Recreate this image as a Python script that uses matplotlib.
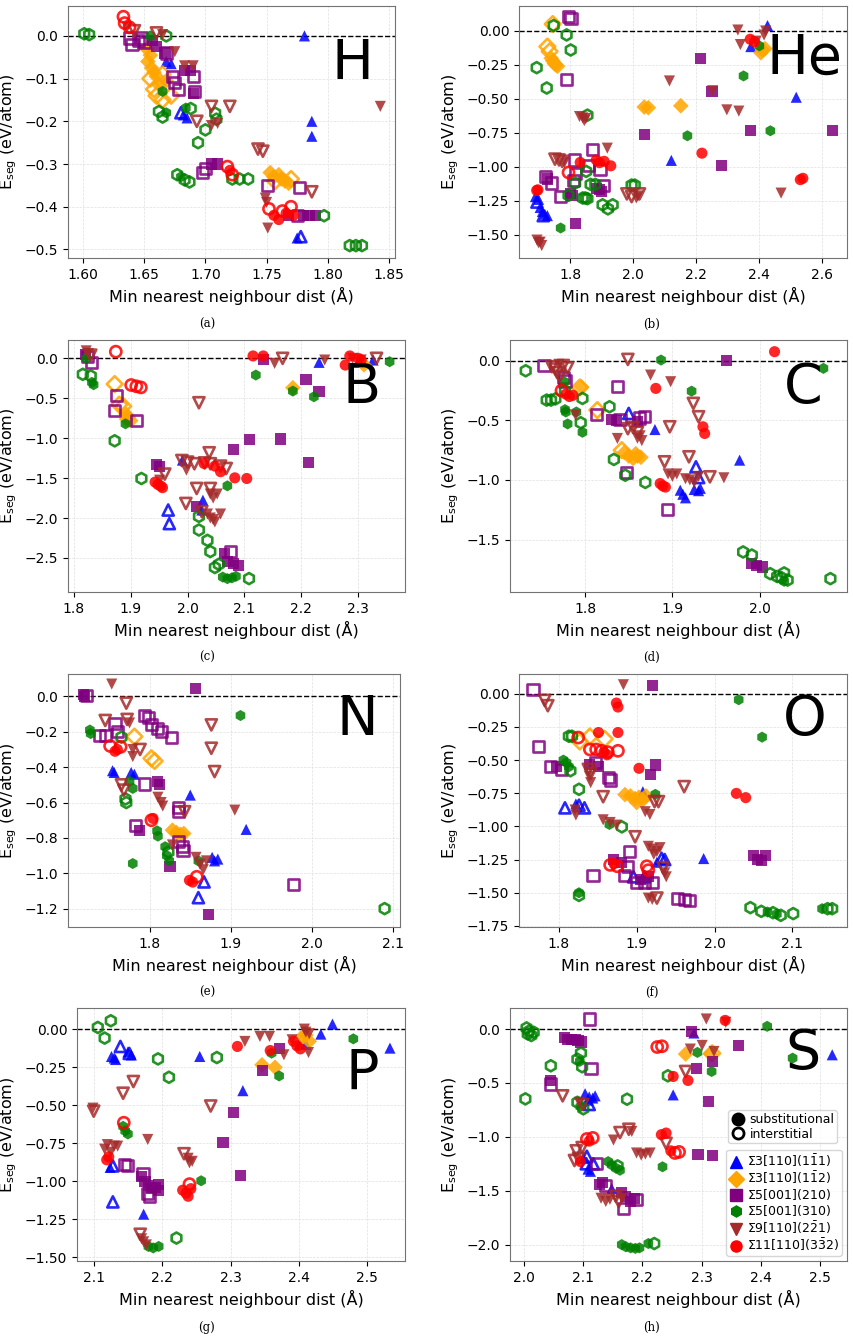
import matplotlib
matplotlib.use("Agg")
import matplotlib.pyplot as plt
from matplotlib.lines import Line2D

plt.rcParams["mathtext.default"] = "regular"

# -------------------------
# Data: (min NN dist [A], E_seg [eV/atom], 1 = substitutional / 0 = interstitial)
# -------------------------

# H
H_S3_111 = [(1.781, 0.0, 1), (1.787, -0.200, 1), (1.787, -0.235, 1), (1.775, -0.473, 1), (1.778, -0.470, 0),
            (1.682, -0.185, 1), (1.685, -0.192, 1), (1.680, -0.180, 0), (1.668, -0.060, 1), (1.672, -0.065, 1)]
H_S3_112 = [(1.652, -0.03, 1), (1.655, -0.045, 1), (1.653, -0.06, 1), (1.656, -0.075, 1), (1.658, -0.085, 1),
            (1.660, -0.095, 1), (1.655, -0.10, 0), (1.662, -0.115, 1), (1.658, -0.125, 0), (1.660, -0.14, 0),
            (1.665, -0.15, 0), (1.672, -0.14, 0), (1.665, -0.09, 0), (1.668, -0.105, 1),
            (1.753, -0.32, 1), (1.756, -0.33, 1), (1.760, -0.325, 1), (1.762, -0.335, 1), (1.765, -0.34, 1),
            (1.768, -0.345, 1), (1.757, -0.34, 0), (1.770, -0.335, 0)]
H_S5_210 = [(1.638, -0.005, 0), (1.640, -0.02, 0), (1.645, -0.01, 0), (1.648, -0.005, 0), (1.650, -0.015, 0),
            (1.657, -0.01, 1), (1.660, -0.025, 1), (1.667, -0.04, 1), (1.668, -0.04, 0), (1.673, -0.095, 0),
            (1.675, -0.11, 0), (1.683, -0.08, 1), (1.688, -0.08, 1), (1.690, -0.095, 0), (1.690, -0.135, 1),
            (1.691, -0.13, 0), (1.678, -0.125, 0), (1.700, -0.31, 0), (1.705, -0.30, 1), (1.710, -0.30, 1),
            (1.698, -0.32, 0), (1.751, -0.35, 0), (1.777, -0.355, 0), (1.768, -0.42, 1), (1.775, -0.42, 0),
            (1.780, -0.42, 1), (1.785, -0.42, 1), (1.790, -0.42, 1)]
H_S5_310 = [(1.601, 0.005, 0), (1.605, 0.003, 0), (1.668, 0.0, 0), (1.655, 0.0, 1), (1.665, -0.13, 1),
            (1.662, -0.177, 0), (1.665, -0.19, 0), (1.668, -0.18, 1), (1.684, -0.169, 1), (1.688, -0.17, 0),
            (1.708, -0.181, 0), (1.709, -0.195, 0), (1.700, -0.22, 0), (1.694, -0.25, 0), (1.677, -0.325, 0),
            (1.680, -0.33, 1), (1.683, -0.337, 0), (1.687, -0.342, 0), (1.722, -0.335, 0), (1.728, -0.335, 0),
            (1.735, -0.335, 0), (1.797, -0.421, 0), (1.818, -0.491, 0), (1.823, -0.491, 0), (1.828, -0.491, 0)]
H_S9_221 = [(1.636, 0.02, 1), (1.642, 0.012, 0), (1.660, 0.007, 0), (1.665, 0.003, 1), (1.675, -0.037, 1),
            (1.683, -0.07, 1), (1.690, -0.07, 1), (1.705, -0.165, 0), (1.720, -0.165, 0), (1.693, -0.20, 0),
            (1.705, -0.21, 1), (1.710, -0.205, 1), (1.743, -0.265, 0), (1.747, -0.27, 0), (1.749, -0.38, 1),
            (1.750, -0.39, 1), (1.751, -0.45, 1), (1.787, -0.365, 0), (1.843, -0.165, 1)]
H_S11_332 = [(1.633, 0.045, 0), (1.634, 0.03, 0), (1.638, 0.02, 0), (1.718, -0.306, 0), (1.720, -0.315, 1),
             (1.722, -0.325, 0), (1.752, -0.405, 0), (1.756, -0.42, 1), (1.760, -0.43, 1), (1.763, -0.41, 0),
             (1.766, -0.415, 1), (1.770, -0.40, 0), (1.772, -0.42, 1)]

# He
HE_S3_111 = [(1.690, -1.22, 1), (1.695, -1.26, 0), (1.700, -1.24, 1), (1.705, -1.30, 1), (1.712, -1.33, 1),
             (1.715, -1.36, 0), (1.720, -1.35, 1), (1.728, -1.36, 1), (2.121, -0.953, 1), (2.373, -0.115, 1),
             (2.426, 0.04, 1), (2.517, -0.488, 1)]
HE_S3_112 = [(1.745, 0.051, 0), (1.728, -0.115, 0), (1.735, -0.15, 0), (1.740, -0.20, 1), (1.745, -0.22, 1),
             (1.750, -0.24, 1), (1.755, -0.25, 1), (1.760, -0.26, 1), (2.035, -0.56, 1), (2.048, -0.565, 1),
             (2.151, -0.551, 1), (2.405, -0.16, 1), (2.410, -0.14, 1), (2.418, -0.13, 1)]
HE_S5_210 = [(1.795, 0.105, 0), (1.803, 0.09, 0), (1.789, -0.36, 0), (1.722, -1.075, 0), (1.728, -1.09, 1),
             (1.740, -1.12, 0), (1.770, -1.22, 0), (1.800, -1.20, 1), (1.808, -1.21, 1), (1.815, -0.95, 0),
             (1.818, -1.05, 0), (1.812, -1.10, 0), (1.857, -0.99, 0), (1.872, -0.875, 0), (1.895, -1.02, 0),
             (1.905, -1.14, 0), (1.885, -1.16, 1), (1.893, -1.17, 1), (1.900, -1.18, 1), (2.035, -0.76, 1),
             (2.213, -0.20, 1), (2.250, -0.446, 1), (2.280, -0.993, 1), (2.373, -0.735, 1), (2.631, -0.735, 1),
             (1.816, -1.419, 1)]
HE_S5_310 = [(1.748, 0.04, 0), (1.789, -0.029, 0), (1.802, -0.14, 0), (1.694, -0.27, 0), (1.726, -0.42, 0),
             (1.855, -0.62, 0), (1.770, -1.451, 1), (1.816, -1.12, 0), (1.851, -1.034, 0), (1.865, -1.13, 0),
             (1.880, -1.13, 0), (1.840, -1.23, 0), (1.848, -1.23, 0), (1.855, -1.235, 0), (1.795, -1.21, 0),
             (1.903, -1.28, 0), (1.920, -1.31, 0), (1.935, -1.28, 0), (1.995, -1.135, 0), (2.005, -1.135, 0),
             (2.172, -0.772, 1), (2.350, -0.331, 1), (2.435, -0.735, 1), (2.400, -0.11, 1)]
HE_S9_221 = [(1.695, -1.54, 1), (1.700, -1.56, 1), (1.705, -1.555, 1), (1.710, -1.58, 1), (1.752, -0.944, 0),
             (1.765, -0.95, 0), (1.775, -0.96, 0), (1.782, -0.97, 1), (1.830, -0.63, 1), (1.840, -0.64, 1),
             (1.850, -0.645, 1), (1.845, -0.66, 1), (1.918, -0.863, 1), (1.980, -1.20, 0), (1.995, -1.22, 0),
             (2.010, -1.23, 1), (2.020, -1.20, 0), (2.015, -1.215, 1), (2.115, -0.368, 1), (2.252, -0.44, 1),
             (2.297, -0.581, 1), (2.335, -0.59, 1), (2.332, 0.007, 1), (2.340, -0.10, 1), (2.390, -0.075, 1),
             (2.420, 0.0, 1), (2.415, -0.03, 1), (2.469, -1.194, 1)]
HE_S11_332 = [(1.694, -1.174, 1), (1.698, -1.17, 1), (1.795, -1.042, 0), (1.832, -0.968, 1), (1.883, -0.95, 1),
              (1.893, -0.97, 1), (1.908, -0.96, 1), (1.929, -0.993, 1), (2.218, -0.90, 1), (2.371, -0.061, 1),
              (2.385, -0.08, 1), (2.530, -1.095, 1), (2.538, -1.085, 1)]

# B
B_S3_111 = [(1.966, -1.90, 0), (1.968, -2.07, 0), (1.991, -1.275, 1), (2.027, -1.777, 1), (2.025, -1.90, 1),
            (2.231, -0.05, 1), (2.300, -0.05, 1), (2.326, -0.021, 1)]
B_S3_112 = [(1.872, -0.322, 0), (1.880, -0.58, 0), (1.887, -0.60, 0), (1.892, -0.70, 1), (1.896, -0.74, 1),
            (1.900, -0.78, 1), (1.893, -0.76, 1), (2.185, -0.368, 1), (2.310, -0.08, 1)]
B_S5_210 = [(1.820, 0.05, 1), (1.825, 0.02, 0), (1.831, -0.05, 0), (1.875, -0.46, 0), (1.872, -0.648, 0),
            (1.910, -0.782, 0), (1.945, -1.33, 1), (1.950, -1.36, 1), (2.016, -1.86, 1), (2.065, -2.45, 1),
            (2.075, -2.42, 0), (2.070, -2.55, 1), (2.080, -2.57, 1), (2.090, -2.60, 1), (2.081, -1.141, 1),
            (2.109, -1.012, 1), (2.164, -1.01, 1), (2.212, -1.304, 1), (2.208, -0.263, 1), (2.231, -0.41, 1),
            (2.133, -0.012, 1)]
B_S5_310 = [(1.816, -0.20, 0), (1.830, -0.22, 0), (1.832, -0.30, 1), (1.835, -0.33, 1), (1.891, -0.82, 1),
            (1.872, -1.033, 0), (1.919, -1.505, 0), (2.020, -1.98, 0), (2.020, -2.15, 0), (2.035, -2.28, 0),
            (2.040, -2.42, 0), (2.048, -2.62, 0), (2.055, -2.58, 0), (2.062, -2.74, 1), (2.070, -2.76, 1),
            (2.078, -2.75, 1), (2.085, -2.73, 1), (2.108, -2.759, 0), (2.120, -0.209, 1), (2.070, -1.597, 1),
            (2.185, -0.41, 1), (2.222, -0.481, 1), (2.355, -0.042, 1), (1.822, 0.0, 1)]
B_S9_221 = [(1.822, 0.094, 1), (1.826, 0.06, 1), (1.830, 0.04, 0), (2.020, -0.556, 0), (1.990, -1.28, 0),
            (2.000, -1.30, 0), (2.012, -1.32, 0), (2.030, -1.31, 0), (2.040, -1.32, 0), (2.058, -1.35, 0),
            (2.068, -1.38, 0), (2.038, -1.183, 0), (1.998, -1.40, 1), (1.951, -1.526, 1), (1.960, -1.45, 0),
            (2.016, -1.63, 0), (2.040, -1.63, 0), (2.040, -1.70, 1), (2.045, -1.75, 1), (2.052, -1.70, 1),
            (1.997, -1.818, 0), (2.025, -1.92, 0), (2.035, -1.95, 1), (2.040, -2.00, 1), (2.048, -2.05, 1),
            (2.058, -1.95, 1), (2.045, -2.02, 1), (2.153, -0.063, 1), (2.167, 0.0, 0), (2.241, -0.021, 1),
            (2.290, 0.0, 1), (2.305, -0.02, 1), (2.332, 0.0, 0)]
B_S11_332 = [(1.874, 0.084, 0), (1.901, -0.334, 0), (1.910, -0.35, 0), (1.918, -0.364, 0), (1.943, -1.55, 1),
             (1.948, -1.58, 1), (1.953, -1.60, 1), (1.956, -1.62, 1), (2.029, -1.317, 1), (2.048, -1.35, 1),
             (2.058, -1.42, 1), (2.083, -1.497, 1), (2.104, -1.505, 1), (2.115, 0.03, 1), (2.133, 0.03, 1),
             (2.277, -0.084, 1), (2.285, 0.03, 1), (2.300, 0.0, 1), (2.305, -0.02, 1)]

# C
C_S3_111 = [(1.850, -0.442, 0), (1.880, -0.577, 1), (1.909, -1.086, 1), (1.912, -1.12, 1), (1.915, -1.15, 1),
            (1.927, -0.89, 0), (1.930, -0.98, 0), (1.925, -1.08, 1), (1.930, -1.09, 1), (1.932, -1.07, 1),
            (1.977, -0.834, 1)]
C_S3_112 = [(1.794, -0.224, 0), (1.796, -0.22, 1), (1.814, -0.414, 0), (1.842, -0.75, 0), (1.845, -0.77, 1),
            (1.850, -0.80, 1), (1.855, -0.82, 1), (1.860, -0.80, 1), (1.858, -0.78, 1), (1.864, -0.81, 1)]
C_S5_210 = [(1.753, -0.042, 0), (1.775, -0.14, 0), (1.777, -0.17, 0), (1.837, -0.218, 0), (1.813, -0.448, 0),
            (1.830, -0.49, 1), (1.836, -0.50, 1), (1.840, -0.49, 0), (1.862, -0.48, 0), (1.868, -0.47, 0),
            (1.860, -0.51, 1), (1.847, -0.94, 0), (1.894, -1.248, 0), (1.962, 0.0, 1), (1.991, -1.70, 1),
            (1.996, -1.72, 1), (2.003, -1.73, 1)]
C_S5_310 = [(1.732, -0.084, 0), (1.756, -0.33, 0), (1.761, -0.33, 0), (1.766, -0.32, 0), (1.776, -0.176, 1),
            (1.777, -0.25, 0), (1.777, -0.41, 1), (1.778, -0.43, 1), (1.780, -0.53, 1), (1.790, -0.43, 1),
            (1.795, -0.52, 0), (1.797, -0.60, 1), (1.797, -0.316, 0), (1.828, -0.386, 0), (1.833, -0.828, 0),
            (1.846, -0.96, 0), (1.869, -1.021, 0), (1.887, 0.006, 1), (1.922, -0.255, 1), (2.073, -0.064, 1),
            (1.981, -1.604, 0), (1.991, -1.63, 0), (2.012, -1.786, 0), (2.020, -1.81, 0), (2.025, -1.82, 0),
            (2.028, -1.85, 1), (2.032, -1.84, 0), (2.028, -1.78, 0), (2.081, -1.828, 0)]
C_S9_221 = [(1.762, -0.05, 0), (1.766, -0.07, 0), (1.768, -0.10, 0), (1.771, -0.13, 0), (1.775, -0.04, 0),
            (1.780, -0.06, 0), (1.770, -0.03, 1), (1.789, -0.456, 1), (1.849, 0.011, 0), (1.875, -0.12, 1),
            (1.898, -0.176, 1), (1.924, -0.358, 0), (1.930, -0.47, 0), (1.897, -0.554, 0), (1.837, -0.652, 1),
            (1.849, -0.57, 0), (1.855, -0.56, 0), (1.860, -0.60, 0), (1.860, -0.65, 1), (1.865, -0.67, 1),
            (1.863, -0.63, 1), (1.891, -0.848, 0), (1.919, -0.806, 0), (1.895, -0.95, 1), (1.900, -0.97, 1),
            (1.905, -0.95, 1), (1.915, -0.99, 1), (1.920, -1.00, 1), (1.925, -1.02, 1), (1.930, -0.97, 1),
            (1.943, -0.974, 0), (1.959, -0.982, 1)]
C_S11_332 = [(1.773, -0.25, 0), (1.778, -0.28, 1), (1.782, -0.30, 1), (1.786, -0.29, 1), (1.881, -0.232, 1),
             (1.886, -1.03, 1), (1.889, -1.05, 1), (1.892, -1.06, 1), (1.935, -0.554, 1), (1.937, -0.61, 1),
             (2.017, 0.076, 1)]

# N
N_S3_111 = [(1.754, -0.42, 1), (1.756, -0.43, 1), (1.777, -0.43, 1), (1.781, -0.44, 1), (1.867, -1.049, 0),
            (1.860, -1.138, 0), (1.850, -0.558, 1), (1.877, -0.91, 1), (1.880, -0.93, 1), (1.884, -0.92, 1),
            (1.919, -0.752, 1)]
N_S3_112 = [(1.781, -0.227, 0), (1.802, -0.35, 0), (1.806, -0.365, 0), (1.828, -0.756, 1), (1.833, -0.77, 1),
            (1.838, -0.78, 1), (1.842, -0.775, 1)]
N_S5_210 = [(1.718, 0.01, 1), (1.719, 0.0, 1), (1.722, 0.005, 0), (1.856, 0.047, 1), (1.738, -0.22, 0),
            (1.745, -0.22, 0), (1.757, -0.151, 0), (1.760, -0.20, 0), (1.794, -0.11, 0), (1.798, -0.12, 0),
            (1.802, -0.16, 0), (1.810, -0.18, 0), (1.815, -0.20, 0), (1.827, -0.23, 0), (1.793, -0.495, 0),
            (1.810, -0.48, 1), (1.812, -0.50, 1), (1.782, -0.73, 0), (1.787, -0.76, 1), (1.835, -0.63, 0),
            (1.836, -0.65, 0), (1.825, -0.964, 1), (1.835, -0.82, 0), (1.840, -0.85, 0), (1.841, -0.87, 0),
            (1.873, -1.232, 1), (1.977, -1.062, 0)]
N_S5_310 = [(1.726, -0.19, 1), (1.727, -0.21, 1), (1.765, -0.23, 0), (1.775, -0.48, 1), (1.779, -0.52, 1),
            (1.770, -0.58, 0), (1.771, -0.60, 0), (1.809, -0.76, 1), (1.810, -0.79, 1), (1.819, -0.85, 1),
            (1.821, -0.90, 1), (1.824, -0.93, 1), (1.823, -0.88, 0), (1.779, -0.945, 1), (1.860, -0.93, 1),
            (1.912, -0.108, 1), (2.090, -1.20, 0)]
N_S9_221 = [(1.753, 0.07, 1), (1.771, -0.038, 0), (1.745, -0.136, 0), (1.772, -0.13, 0), (1.775, -0.15, 1),
            (1.779, -0.30, 1), (1.779, -0.34, 1), (1.788, -0.30, 0), (1.765, -0.50, 0), (1.768, -0.53, 0),
            (1.810, -0.57, 1), (1.814, -0.60, 1), (1.816, -0.62, 1), (1.843, -0.652, 0), (1.828, -0.84, 1),
            (1.857, -0.91, 1), (1.862, -0.95, 1), (1.866, -0.98, 1), (1.870, -0.93, 1), (1.876, -0.161, 0),
            (1.876, -0.293, 0), (1.880, -0.425, 0), (1.905, -0.643, 1)]
N_S11_332 = [(1.751, -0.28, 0), (1.757, -0.31, 1), (1.760, -0.30, 1), (1.764, -0.285, 0), (1.802, -0.70, 0),
             (1.804, -0.69, 1), (1.849, -1.04, 1), (1.853, -1.05, 1), (1.858, -1.02, 0)]

# O
O_S3_111 = [(1.808, -0.86, 0), (1.822, -0.83, 1), (1.826, -0.84, 0), (1.833, -0.86, 0), (1.908, -0.738, 1),
            (1.896, -1.38, 0), (1.910, -1.38, 0), (1.926, -1.27, 1), (1.932, -1.24, 0), (1.936, -1.25, 0),
            (1.986, -1.242, 1)]
O_S3_112 = [(1.827, -0.36, 0), (1.840, -0.322, 0), (1.859, -0.34, 0), (1.885, -0.76, 1), (1.892, -0.77, 1),
            (1.898, -0.79, 1), (1.903, -0.78, 1), (1.908, -0.80, 1), (1.912, -0.77, 1), (1.900, -0.82, 1)]
O_S5_210 = [(1.767, 0.03, 0), (1.774, -0.398, 0), (1.790, -0.55, 0), (1.797, -0.55, 1), (1.803, -0.569, 0),
            (1.840, -0.53, 1), (1.847, -0.52, 0), (1.851, -0.55, 1), (1.864, -0.63, 0), (1.866, -0.65, 0),
            (1.920, 0.063, 1), (1.924, -0.537, 1), (1.918, -0.607, 1), (1.844, -1.368, 0), (1.891, -1.186, 0),
            (1.870, -1.25, 1), (1.880, -1.27, 1), (1.888, -1.30, 0), (1.884, -1.373, 0), (1.900, -1.42, 0),
            (1.905, -1.40, 1), (1.910, -1.42, 0), (1.915, -1.38, 1), (1.920, -1.42, 0), (1.953, -1.54, 0),
            (1.961, -1.55, 0), (1.968, -1.56, 0), (2.050, -1.22, 1), (2.055, -1.25, 1), (2.060, -1.26, 1),
            (2.065, -1.22, 1)]
O_S5_310 = [(1.813, -0.32, 0), (1.817, -0.32, 0), (1.806, -0.50, 1), (1.810, -0.52, 1), (1.813, -0.55, 1),
            (1.815, -0.58, 0), (1.826, -0.72, 0), (1.826, -1.50, 1), (1.826, -1.52, 0), (1.865, -0.985, 1),
            (1.881, -1.003, 0), (1.924, -0.758, 1), (2.031, -0.045, 1), (2.061, -0.327, 1), (2.046, -1.612, 0),
            (2.060, -1.64, 0), (2.068, -1.645, 1), (2.075, -1.65, 0), (2.080, -1.66, 1), (2.085, -1.67, 0),
            (2.101, -1.657, 0), (2.138, -1.62, 1), (2.145, -1.62, 0), (2.151, -1.62, 0)]
O_S9_221 = [(1.883, 0.068, 1), (1.782, -0.05, 0), (1.786, -0.09, 0), (1.838, -0.57, 0), (1.841, -0.60, 0),
            (1.839, -0.62, 1), (1.841, -0.67, 1), (1.857, -0.776, 0), (1.821, -0.876, 1), (1.822, -0.914, 1),
            (1.857, -0.95, 1), (1.866, -0.97, 1), (1.874, -0.99, 1), (1.911, -0.889, 1), (1.917, -0.91, 1),
            (1.923, -0.813, 0), (1.928, -0.813, 0), (1.961, -0.70, 0), (1.898, -1.078, 0), (1.915, -1.15, 1),
            (1.920, -1.17, 1), (1.926, -1.19, 1), (1.922, -1.21, 1), (1.930, -1.16, 1), (1.934, -1.31, 0),
            (1.936, -1.35, 1), (1.938, -1.38, 1), (1.915, -1.54, 1), (1.920, -1.55, 1), (1.926, -1.54, 0)]
O_S11_332 = [(1.874, -0.07, 1), (1.876, -0.10, 1), (1.825, -0.33, 0), (1.851, -0.292, 1), (1.876, -0.292, 1),
             (1.840, -0.42, 0), (1.848, -0.42, 0), (1.855, -0.43, 0), (1.863, -0.44, 0), (1.876, -0.43, 0),
             (1.858, -0.44, 1), (1.862, -0.46, 1), (1.903, -0.562, 1), (1.866, -1.29, 0), (1.871, -1.28, 1),
             (1.875, -1.30, 0), (1.913, -1.30, 0), (1.915, -1.33, 0), (2.028, -0.751, 1), (2.040, -0.783, 1)]

# P
P_S3_111 = [(2.139, -0.114, 0), (2.126, -0.18, 1), (2.130, -0.19, 1), (2.132, -0.20, 1), (2.150, -0.15, 1),
            (2.155, -0.17, 1), (2.152, -0.16, 0), (2.124, -0.91, 1), (2.128, -0.90, 0), (2.128, -1.137, 0),
            (2.173, -1.218, 1), (2.255, -0.18, 1), (2.318, -0.405, 1), (2.401, -0.097, 1), (2.410, -0.10, 1),
            (2.432, -0.033, 1), (2.449, 0.033, 1), (2.533, -0.125, 1)]
P_S3_112 = [(2.346, -0.235, 1), (2.365, -0.251, 1), (2.405, -0.05, 1), (2.410, -0.04, 1), (2.415, -0.08, 1)]
P_S5_210 = [(2.347, -0.27, 1), (2.372, -0.125, 1), (2.304, -0.548, 1), (2.289, -0.748, 1), (2.315, -0.961, 1),
            (2.145, -0.89, 0), (2.150, -0.90, 0), (2.170, -0.97, 1), (2.175, -1.00, 1), (2.180, -1.03, 1),
            (2.185, -1.05, 1), (2.190, -1.04, 1), (2.195, -1.02, 1), (2.172, -0.95, 0), (2.178, -1.08, 0),
            (2.195, -1.06, 1), (2.182, -1.10, 0)]
P_S5_310 = [(2.106, 0.011, 0), (2.125, 0.055, 0), (2.116, -0.059, 0), (2.194, -0.196, 0), (2.210, -0.317, 0),
            (2.280, -0.187, 0), (2.143, -0.64, 1), (2.146, -0.67, 1), (2.150, -0.69, 1), (2.257, -0.998, 1),
            (2.180, -1.43, 1), (2.187, -1.44, 1), (2.195, -1.43, 1), (2.221, -1.375, 0), (2.360, -0.158, 1),
            (2.371, -0.308, 1), (2.4795, -0.064, 1)]
P_S9_221 = [(2.099, -0.52, 1), (2.100, -0.54, 0), (2.143, -0.422, 0), (2.158, -0.345, 0), (2.116, -0.79, 1),
            (2.120, -0.76, 1), (2.125, -0.81, 1), (2.130, -0.77, 1), (2.135, -0.77, 1), (2.179, -0.726, 1),
            (2.271, -0.506, 0), (2.232, -0.82, 0), (2.238, -0.85, 1), (2.244, -0.87, 1), (2.240, -0.88, 1),
            (2.168, -1.35, 0), (2.170, -1.38, 1), (2.173, -1.40, 1), (2.177, -1.42, 1), (2.321, -0.081, 1),
            (2.343, -0.048, 1), (2.357, -0.048, 1), (2.378, -0.169, 1), (2.390, -0.07, 1), (2.408, 0.0, 1),
            (2.410, -0.02, 1), (2.415, -0.03, 1), (2.414, -0.154, 1)]
P_S11_332 = [(2.144, -0.616, 0), (2.119, -0.86, 1), (2.122, -0.84, 1), (2.230, -1.06, 1), (2.235, -1.08, 1),
             (2.238, -1.10, 1), (2.242, -1.05, 1), (2.240, -1.02, 0), (2.310, -0.114, 1), (2.358, -0.141, 1),
             (2.392, -0.08, 1), (2.397, -0.11, 1), (2.402, -0.13, 1)]

# S
S_S3_111 = [(2.103, -0.60, 1), (2.110, -0.63, 1), (2.116, -0.64, 1), (2.120, -0.62, 1), (2.108, -0.66, 1),
            (2.110, -0.70, 0), (2.100, -1.20, 1), (2.105, -1.25, 0), (2.108, -1.30, 1), (2.112, -1.32, 1),
            (2.117, -1.25, 0), (2.106, -1.18, 0), (2.148, -1.48, 1), (2.287, -0.037, 1), (2.252, -0.611, 1),
            (2.521, -0.239, 1)]
S_S3_112 = [(2.273, -0.232, 1), (2.315, -0.232, 1), (2.318, -0.225, 0)]
S_S5_210 = [(2.068, -0.08, 1), (2.074, -0.10, 1), (2.080, -0.10, 1), (2.086, -0.10, 1), (2.091, -0.11, 1),
            (2.096, -0.12, 1), (2.111, 0.093, 0), (2.113, -0.363, 0), (2.044, -0.48, 1), (2.045, -0.51, 0),
            (2.123, -1.247, 0), (2.128, -1.44, 1), (2.133, -1.42, 1), (2.138, -1.45, 0), (2.165, -1.52, 1),
            (2.172, -1.55, 1), (2.180, -1.60, 1), (2.186, -1.57, 1), (2.190, -1.58, 0), (2.168, -1.665, 0),
            (2.283, -0.022, 1), (2.291, -0.363, 1), (2.318, -0.30, 1), (2.311, -0.673, 1), (2.363, -0.155, 1),
            (2.294, -1.16, 1), (2.319, -1.175, 1)]
S_S5_310 = [(2.004, 0.01, 0), (2.008, -0.02, 0), (2.012, -0.06, 0), (2.006, -0.045, 0), (2.016, -0.03, 0),
            (2.002, -0.648, 0), (2.045, -0.341, 0), (2.096, -0.223, 0), (2.090, -0.28, 0), (2.094, -0.30, 1),
            (2.098, -0.35, 0), (2.090, -0.68, 0), (2.095, -0.72, 1), (2.100, -0.74, 0), (2.142, -1.23, 1),
            (2.148, -1.26, 1), (2.155, -1.29, 1), (2.162, -1.31, 1), (2.158, -1.27, 0), (2.174, -0.651, 0),
            (2.165, -2.00, 1), (2.172, -2.02, 1), (2.180, -2.03, 1), (2.188, -2.035, 1), (2.195, -2.03, 1),
            (2.210, -1.99, 1), (2.220, -1.99, 0), (2.243, -0.434, 0), (2.234, -1.278, 1), (2.293, -0.217, 1),
            (2.317, -0.394, 1), (2.411, 0.025, 1), (2.454, -0.27, 1)]
S_S9_221 = [(2.065, -0.62, 0), (2.093, -0.68, 1), (2.099, -0.70, 0), (2.088, -1.13, 0), (2.098, -1.10, 0),
            (2.092, -1.20, 0), (2.085, -1.22, 0), (2.151, -1.03, 1), (2.162, -0.961, 0), (2.177, -0.93, 0),
            (2.182, -0.95, 1), (2.130, -1.57, 1), (2.138, -1.60, 1), (2.145, -1.58, 1), (2.155, -1.55, 0),
            (2.160, -1.60, 0), (2.165, -1.57, 1), (2.190, -1.15, 1), (2.198, -1.17, 1), (2.205, -1.16, 1),
            (2.213, -1.15, 1), (2.240, -1.06, 0), (2.273, -0.394, 0), (2.281, -0.186, 1), (2.301, -0.152, 1),
            (2.308, 0.093, 1), (2.321, -0.208, 1), (2.341, 0.062, 1)]
S_S11_332 = [(2.225, -0.167, 0), (2.233, -0.16, 0), (2.252, -0.44, 1), (2.277, -0.477, 1), (2.340, 0.08, 1),
             (2.106, -1.02, 0), (2.110, -1.04, 1), (2.116, -1.01, 0), (2.095, -1.23, 1), (2.232, -0.98, 1),
             (2.240, -0.965, 1), (2.248, -1.13, 1), (2.255, -1.15, 0), (2.262, -1.14, 0)]

# -------------------------
# Series styles (legend order)
# -------------------------
SERIES_COLORS = ["blue", "orange", "purple", "green", "brown", "red"]
SERIES_MARKERS = ["^", "D", "s", "h", "v", "o"]
SERIES_LABELS = [r"$\Sigma3[110](1\bar{1}1)$", r"$\Sigma3[110](1\bar{1}2)$", r"$\Sigma5[001](210)$",
                 r"$\Sigma5[001](310)$", r"$\Sigma9[110](2\bar{2}1)$", r"$\Sigma11[110](3\bar{3}2)$"]

ELEMENTS = ["H", "He", "B", "C", "N", "O", "P", "S"]
PANEL_TAGS = ["(a)", "(b)", "(c)", "(d)", "(e)", "(f)", "(g)", "(h)"]
PANEL_DATA = [
    [H_S3_111, H_S3_112, H_S5_210, H_S5_310, H_S9_221, H_S11_332],
    [HE_S3_111, HE_S3_112, HE_S5_210, HE_S5_310, HE_S9_221, HE_S11_332],
    [B_S3_111, B_S3_112, B_S5_210, B_S5_310, B_S9_221, B_S11_332],
    [C_S3_111, C_S3_112, C_S5_210, C_S5_310, C_S9_221, C_S11_332],
    [N_S3_111, N_S3_112, N_S5_210, N_S5_310, N_S9_221, N_S11_332],
    [O_S3_111, O_S3_112, O_S5_210, O_S5_310, O_S9_221, O_S11_332],
    [P_S3_111, P_S3_112, P_S5_210, P_S5_310, P_S9_221, P_S11_332],
    [S_S3_111, S_S3_112, S_S5_210, S_S5_310, S_S9_221, S_S11_332],
]
XLIMS = [(1.5877, 1.855), (1.638, 2.678), (1.790, 2.382), (1.714, 2.100),
         (1.699, 2.109), (1.749, 2.170), (2.0756, 2.555), (1.976, 2.546)]
YLIMS = [(-0.52, 0.07), (-1.672, 0.184), (-2.927, 0.23), (-1.94, 0.174),
         (-1.304, 0.127), (-1.758, 0.149), (-1.526, 0.139), (-2.152, 0.195)]
XTICKS = [[1.60, 1.65, 1.70, 1.75, 1.80, 1.85], [1.8, 2.0, 2.2, 2.4, 2.6],
          [1.8, 1.9, 2.0, 2.1, 2.2, 2.3], [1.8, 1.9, 2.0], [1.8, 1.9, 2.0, 2.1],
          [1.8, 1.9, 2.0, 2.1], [2.1, 2.2, 2.3, 2.4, 2.5], [2.0, 2.1, 2.2, 2.3, 2.4, 2.5]]
YTICKS = [[0.0, -0.1, -0.2, -0.3, -0.4, -0.5], [0.0, -0.25, -0.5, -0.75, -1.0, -1.25, -1.5],
          [0.0, -0.5, -1.0, -1.5, -2.0, -2.5], [0.0, -0.5, -1.0, -1.5],
          [0.0, -0.2, -0.4, -0.6, -0.8, -1.0, -1.2], [0.0, -0.25, -0.5, -0.75, -1.0, -1.25, -1.5, -1.75],
          [0.0, -0.25, -0.5, -0.75, -1.0, -1.25, -1.5], [0.0, -0.5, -1.0, -1.5, -2.0]]
LABEL_Y = [0.77, 0.79, 0.81, 0.81, 0.82, 0.82, 0.74, 0.82]

# -------------------------
# Layout (figure pixels: left, right, top, bottom)
# -------------------------
W, H = 854, 1341
AXES_PX = [(68, 395, 6, 258), (519, 847, 6, 258),
           (68, 405, 340, 592), (510, 847, 340, 592),
           (68, 400, 674, 927), (519, 847, 674, 927),
           (77, 405, 1008, 1261), (510, 847, 1008, 1261)]
TAG_PX = [(207, 324), (652, 324), (207, 657), (652, 657),
          (207, 992), (652, 992), (207, 1327), (652, 1327)]

MS = 64
ALPHA = 0.85

fig = plt.figure(figsize=(W / 100, H / 100), dpi=100)

axes = []
for i in range(8):
    l, r, t, b = AXES_PX[i]
    ax = fig.add_axes([l / W, 1 - b / H, (r - l) / W, (b - t) / H])
    axes.append(ax)

    for pts, c, m in zip(PANEL_DATA[i], SERIES_COLORS, SERIES_MARKERS):
        sub = [(x, y) for x, y, k in pts if k]
        itl = [(x, y) for x, y, k in pts if not k]
        if itl:
            ax.scatter([p[0] for p in itl], [p[1] for p in itl], s=MS, marker=m,
                       facecolors="none", edgecolors=c, linewidths=1.9, alpha=ALPHA, zorder=3)
        if sub:
            ax.scatter([p[0] for p in sub], [p[1] for p in sub], s=MS, marker=m,
                       color=c, edgecolors="none", alpha=ALPHA, zorder=3)

    ax.axhline(0, color="black", ls="--", lw=1.0, zorder=2)
    ax.set_xlim(*XLIMS[i])
    ax.set_ylim(*YLIMS[i])
    ax.set_xticks(XTICKS[i])
    ax.set_yticks(YTICKS[i])
    ax.tick_params(labelsize=10)
    ax.grid(True, ls="--", lw=0.5, color="0.88", zorder=0)
    ax.set_axisbelow(True)
    for sp in ax.spines.values():
        sp.set_color("0.45")
    ax.set_xlabel("Min nearest neighbour dist (Å)", fontsize=11.5)
    ax.set_ylabel(r"E$_{\rm seg}$ (eV/atom)", fontsize=11.5)
    ax.text(0.87, LABEL_Y[i], ELEMENTS[i], transform=ax.transAxes, fontsize=40,
            ha="center", va="center", zorder=5)

    tx, ty = TAG_PX[i]
    fig.text(tx / W, 1 - ty / H, PANEL_TAGS[i], family="DejaVu Serif", fontsize=8.5,
             ha="center", va="center")

# legends in the last panel
ax = axes[-1]
kind_handles = [
    Line2D([], [], ls="none", marker="o", color="black", markersize=9),
    Line2D([], [], ls="none", marker="o", markerfacecolor="none", markeredgecolor="black",
           markeredgewidth=2, markersize=8),
]
leg1 = ax.legend(kind_handles, ["substitutional", "interstitial"], loc="upper right",
                 bbox_to_anchor=(0.97, 0.595), borderaxespad=0, fontsize=9,
                 handletextpad=0.3, labelspacing=0.15, borderpad=0.2, handlelength=1.2)
ax.add_artist(leg1)
series_handles = [Line2D([], [], ls="none", marker=m, color=c, markersize=8)
                  for c, m in zip(SERIES_COLORS, SERIES_MARKERS)]
ax.legend(series_handles, SERIES_LABELS, loc="lower right", bbox_to_anchor=(0.985, 0.02),
          borderaxespad=0, fontsize=9, handletextpad=0.3, labelspacing=0.08,
          borderpad=0.2, handlelength=1.2)

fig.savefig("out.png", dpi=100)
